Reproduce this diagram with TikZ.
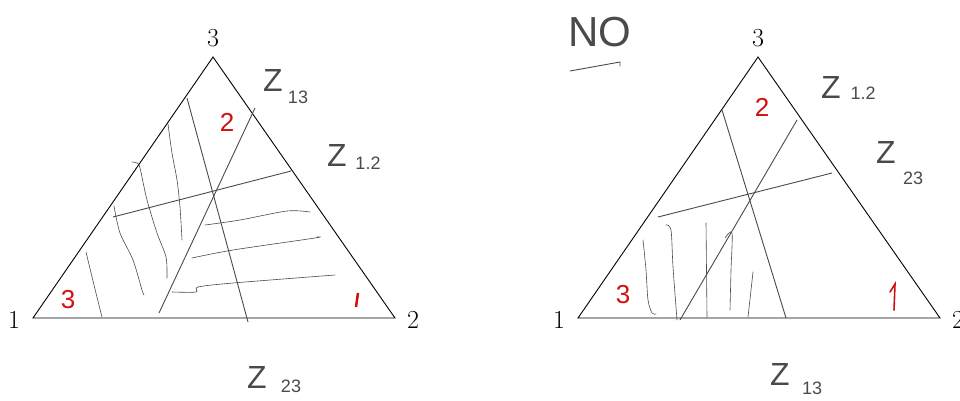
\documentclass[tikz,border=0pt]{standalone}
\usepackage{xcolor}
\usepackage{fontspec}
\usepackage{tikz}
\usetikzlibrary{calc,positioning}
\newfontfamily\handfont{Liberation Sans}
\definecolor{inkgray}{HTML}{4A4A4A}
\definecolor{inkred}{HTML}{D01010}

\begin{document}
\begin{tikzpicture}[x=1pt, y=-1pt,
    edge/.style={draw=black, line width=0.9pt},
    cut/.style={draw=inkgray, line width=0.9pt},
    hatch/.style={draw=inkgray, line width=0.6pt, line cap=round},
    vlabel/.style={font=\fontsize{26}{28}\selectfont, inner sep=0pt},
    hw/.style={font=\handfont\fontsize{32}{34}\selectfont, text=inkgray, inner sep=0pt},
    hwsub/.style={font=\handfont\fontsize{18}{20}\selectfont, text=inkgray, inner sep=0pt},
    region/.style={font=\handfont\fontsize{26}{28}\selectfont, text=inkred, inner sep=0pt}]

    \useasboundingbox (0,0) rectangle (960,400);

    % Triangles
    \foreach \t/\s in {l/0, r/545} {
        \coordinate (\t1) at (33+\s,318);
        \coordinate (\t2) at (395+\s,318);
        \coordinate (\t3) at (213+\s,57);
        \draw[edge] (\t1) -- (\t2) -- (\t3) -- cycle;
        \node[vlabel] (\t lab1) at ($(\t1)+(-19,2)$) {1};
        \node[vlabel] (\t lab2) at ($(\t2)+(18,2)$) {2};
        \node[vlabel] (\t lab3) at ($(\t3)+(0,-19)$) {3};
    }

    % Cuts, left
    \coordinate (la1) at (187,98);  \coordinate (la2) at (248,322);
    \coordinate (lb1) at (159,313); \coordinate (lb2) at (255,108);
    \coordinate (lc1) at (113,217); \coordinate (lc2) at (291,171);
    \draw[cut] (la1) -- (la2);
    \draw[cut] (lb1) -- (lb2);
    \draw[cut] (lc1) -- (lc2);

    % Cuts, right
    \coordinate (ra1) at (722,110); \coordinate (ra2) at (786,318);
    \coordinate (rb1) at (680,320); \coordinate (rb2) at (797,120);
    \coordinate (rc1) at (658,217); \coordinate (rc2) at (832,173);
    \draw[cut] (ra1) -- (ra2);
    \draw[cut] (rb1) -- (rb2);
    \draw[cut] (rc1) -- (rc2);

    % Hatching, left
    \draw[hatch] plot[smooth] coordinates {(86,252) (94,285) (102,317)};
    \draw[hatch] plot[smooth] coordinates {(114,206) (120,233) (133,260) (142,290) (144,295)};
    \draw[hatch] plot[smooth] coordinates {(132,162) (137,163) (140,168) (147,200) (157,233) (166,257) (167,278)};
    \draw[hatch] plot[smooth] coordinates {(168,124) (172,153) (177,180) (180,207) (182,240)};
    \draw[hatch] plot[smooth] coordinates {(205,225) (240,220) (287,211) (310,212)};
    \draw[hatch] plot[smooth] coordinates {(192,258) (233,250) (315,238) (317,237)};
    \draw[hatch] plot[smooth] coordinates {(172,292) (196,292) (198,287) (233,283) (335,275)};

    % Hatching, right
    \draw[hatch] plot[smooth] coordinates {(643,240) (646,270) (648,300) (652,313) (656,314)};
    \draw[hatch] plot[smooth] coordinates {(666,225) (671,230) (673,267) (677,320)};
    \draw[hatch] plot[smooth] coordinates {(706,223) (707,317)};
    \draw[hatch] plot[smooth] coordinates {(725,238) (732,233) (731,270) (730,310)};
    \draw[hatch] plot[smooth] coordinates {(753,272) (748,317)};

    % Regions
    \node[region] (lreg3) at (68,300) {3};
    \node[region] (lreg2) at (227,122) {2};
    \draw[inkred, line width=2.5pt] (358,293) -- (356,307);
    \node[region] (rreg3) at (623,295) {3};
    \node[region] (rreg2) at (762,107) {2};
    \draw[inkred, line width=1.6pt, line cap=round] (890,292) -- (895,284) -- (894,310);

    % Z labels
    \node[hw] (lz13) at (273,80) {Z};   \node[hwsub] (lz13s) at (298,97) {13};
    \node[hw] (lz12) at (337,155) {Z};  \node[hwsub] (lz12s) at (368,163) {1.2};
    \node[hw] (lz23) at (257,377) {Z};  \node[hwsub] (lz23s) at (291,386) {23};
    \node[hw] (rz12) at (831,87) {Z};   \node[hwsub] (rz12s) at (863,93) {1.2};
    \node[hw] (rz23) at (886,152) {Z};  \node[hwsub] (rz23s) at (913,178) {23};
    \node[hw] (rz13) at (780,374) {Z};  \node[hwsub] (rz13s) at (812,388) {13};

    % NO
    \node[hw, font=\handfont\fontsize{42}{44}\selectfont] (no) at (600,32) {NO};
    \draw[hatch, line width=0.9pt] (570,71) -- (620,62) -- (620,66);
\end{tikzpicture}
\end{document}
